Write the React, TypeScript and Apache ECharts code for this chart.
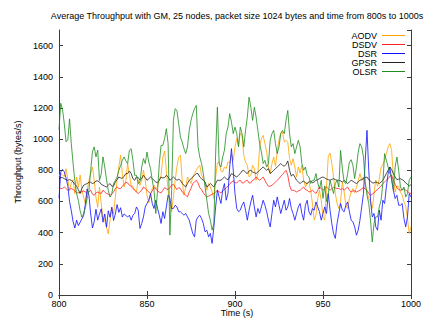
import React, { useEffect, useRef } from "react";
import * as echarts from "echarts";

const TITLE =
  "Average Throughput with GM, 25 nodes, packet size 1024 bytes and time from 800s to 1000s";
const X_LABEL = "Time (s)";
const Y_LABEL = "Throughput (bytes/s)";
const START_TIME = 800;
const SERIES_NAMES = ["AODV", "DSDV", "DSR", "GPSR", "OLSR"];

const AODV = [
  760, 780, 770, 760, 810, 740, 670, 720, 740, 650, 757, 692, 770, 671, 628, 585, 671, 735, 778, 821,
  735, 628, 563, 692, 585, 499, 478, 435, 392, 480, 563, 520, 628, 735, 821, 897, 778, 692, 735, 843,
  770, 704, 698, 672, 661, 736, 704, 736, 800, 736, 640, 591, 640, 683, 704, 683, 693, 740, 768, 885,
  924, 800, 672, 587, 534, 629, 736, 821, 885, 896, 736, 640, 693, 757, 736, 715, 757, 779, 800, 821,
  832, 768, 747, 715, 672, 715, 693, 661, 619, 757, 847, 853, 796, 789, 821, 811, 853, 847, 903, 864,
  950, 1003, 960, 1039, 1024, 896, 853, 832, 757, 768, 832, 811, 736, 779, 950, 1003, 1024, 971, 917, 821,
  779, 843, 885, 826, 917, 996, 1039, 1045, 981, 992, 981, 875, 832, 875, 821, 757, 821, 783, 832, 736,
  693, 719, 725, 672, 587, 480, 512, 619, 672, 608, 501, 480, 693, 890, 911, 843, 757, 651, 587, 555,
  597, 725, 661, 576, 555, 619, 661, 683, 655, 689, 732, 779, 736, 757, 704, 661, 619, 597, 555, 651,
  736, 698, 747, 817, 838, 864, 907, 950, 971, 928, 757, 661, 698, 698, 661, 640, 597, 570, 491, 395,
  437,
];

const DSDV = [
  687, 683, 683, 693, 683, 672, 678, 683, 676, 668, 655, 655, 661, 661, 668, 661, 651, 661, 672, 647,
  640, 655, 661, 655, 651, 672, 661, 651, 647, 640, 647, 661, 683, 693, 683, 683, 698, 710, 723, 719,
  704, 698, 683, 672, 661, 651, 661, 672, 693, 683, 672, 661, 651, 668, 689, 681, 668, 659, 655, 672,
  689, 681, 676, 689, 704, 710, 693, 676, 689, 683, 661, 651, 640, 629, 661, 683, 715, 725, 736, 719,
  689, 676, 655, 640, 629, 634, 640, 647, 651, 661, 672, 661, 655, 668, 676, 689, 698, 710, 725, 732,
  721, 719, 730, 736, 719, 719, 732, 736, 719, 719, 736, 742, 757, 746, 736, 746, 757, 736, 715, 698,
  698, 704, 715, 725, 736, 746, 762, 772, 787, 800, 768, 704, 672, 672, 668, 661, 668, 672, 683, 693,
  676, 672, 661, 664, 672, 661, 651, 672, 693, 683, 672, 683, 693, 683, 672, 681, 693, 687, 683, 683,
  676, 683, 672, 683, 693, 672, 661, 668, 668, 661, 666, 672, 681, 689, 681, 672, 651, 640, 647, 655,
  668, 676, 689, 698, 715, 725, 736, 746, 762, 768, 736, 710, 689, 676, 672, 676, 681, 672, 666, 655,
  651,
];

const DSR = [
  620, 790, 805, 790, 750, 700, 600, 540, 470, 430, 480, 445, 467, 488, 510, 585, 680, 640, 520, 430,
  470, 550, 480, 520, 553, 467, 520, 435, 540, 499, 563, 478, 520, 580, 530, 560, 500, 520, 510, 500,
  512, 480, 512, 523, 565, 544, 427, 459, 501, 565, 587, 608, 651, 587, 555, 608, 555, 512, 459, 534,
  491, 565, 640, 619, 555, 555, 576, 565, 534, 534, 523, 512, 523, 501, 480, 437, 395, 373, 480, 501,
  512, 491, 459, 405, 416, 373, 395, 331, 437, 565, 672, 629, 587, 672, 715, 608, 651, 821, 939, 800,
  651, 555, 534, 544, 576, 597, 544, 480, 544, 597, 640, 565, 501, 555, 523, 565, 608, 576, 534, 480,
  437, 523, 608, 565, 629, 576, 523, 565, 608, 544, 565, 619, 555, 523, 480, 523, 565, 587, 523, 480,
  576, 608, 534, 512, 555, 544, 597, 565, 534, 480, 523, 565, 523, 651, 544, 459, 395, 363, 459, 523,
  587, 544, 534, 576, 597, 534, 480, 469, 437, 384, 416, 480, 565, 651, 864, 1056, 800, 608, 501, 523,
  437, 416, 544, 480, 608, 587, 693, 779, 821, 736, 672, 619, 640, 576, 576, 587, 491, 437, 501, 651,
  629,
];

const GPSR = [
  746, 753, 753, 746, 740, 736, 740, 736, 725, 710, 698, 676, 651, 683, 704, 710, 715, 723, 723, 715,
  719, 732, 732, 725, 710, 704, 698, 693, 704, 715, 698, 698, 725, 740, 757, 751, 749, 762, 779, 779,
  796, 779, 746, 736, 757, 753, 736, 746, 768, 753, 736, 746, 757, 746, 736, 725, 719, 736, 757, 751,
  753, 768, 757, 736, 746, 757, 746, 736, 742, 736, 715, 704, 693, 715, 736, 746, 757, 768, 779, 779,
  757, 746, 736, 725, 693, 704, 715, 704, 693, 715, 736, 736, 736, 746, 757, 746, 740, 757, 779, 772,
  764, 757, 768, 779, 796, 800, 787, 779, 796, 800, 789, 785, 779, 789, 800, 811, 821, 811, 800, 811,
  779, 789, 800, 811, 821, 832, 843, 832, 826, 838, 860, 800, 762, 775, 757, 736, 725, 715, 725, 732,
  719, 715, 725, 732, 719, 725, 736, 740, 746, 753, 757, 751, 744, 740, 736, 742, 746, 740, 736, 736,
  732, 725, 736, 725, 715, 725, 736, 730, 721, 715, 725, 736, 740, 746, 753, 757, 740, 732, 719, 719,
  725, 721, 715, 725, 736, 757, 779, 800, 821, 804, 779, 757, 740, 744, 746, 740, 732, 719, 710, 698,
  710,
];

const OLSR = [
  1060, 1230, 1190, 1100, 983, 995, 1130, 970, 843, 735, 650, 606, 540, 499, 520, 563, 620, 671, 800, 918,
  950, 886, 929, 735, 778, 886, 821, 740, 671, 628, 650, 714, 735, 757, 800, 830, 864, 886, 860, 843,
  928, 939, 864, 768, 768, 715, 725, 821, 875, 843, 917, 853, 811, 736, 672, 523, 672, 843, 960, 960,
  1003, 1067, 971, 384, 672, 1120, 1195, 1184, 1099, 1013, 981, 939, 907, 950, 1056, 1120, 1163, 1195, 1216, 950,
  885, 843, 779, 693, 608, 523, 480, 416, 459, 907, 1205, 843, 821, 885, 928, 1035, 1077, 1163, 1109, 1035,
  1077, 1035, 950, 1077, 1035, 950, 1056, 1141, 1269, 1205, 1120, 1205, 1141, 1056, 971, 917, 843, 864, 821, 843,
  992, 1035, 1056, 971, 907, 950, 1035, 1056, 1035, 1120, 1184, 1035, 950, 971, 907, 950, 992, 950, 843, 800,
  821, 768, 757, 715, 736, 736, 779, 720, 680, 736, 620, 700, 600, 651, 736, 693, 651, 715, 736, 693,
  928, 811, 725, 715, 779, 853, 868, 832, 747, 821, 917, 971, 950, 885, 725, 640, 587, 480, 340, 459,
  501, 501, 565, 608, 715, 907, 864, 821, 779, 757, 672, 821, 885, 800, 693, 672, 693, 629, 651, 736,
  757,
];

const SERIES_VALUES = [AODV, DSDV, DSR, GPSR, OLSR];
const SERIES_COLORS = ["#ffa500", "#ff2020", "#1010ff", "#202020", "#1e8c1e"];

const X_MIN = 800;
const X_MAX = 1000;
const X_STEP = 50;
const Y_MIN = 0;
const Y_MAX = 1700;
const Y_STEP = 200;

const FONT = "'Liberation Sans', Arial, sans-serif";
const AXIS_COLOR = "#3c3c3c";

export default function App() {
  const ref = useRef<HTMLDivElement>(null);

  useEffect(() => {
    if (!ref.current) return;
    const chart = echarts.init(ref.current, undefined, { renderer: "svg" });

    const axisLine = { show: true, lineStyle: { color: AXIS_COLOR, width: 1 } };
    const tick = { show: true, inside: true, length: 4, lineStyle: { color: AXIS_COLOR, width: 1 } };
    const label = {
      fontSize: 9,
      color: "#000",
      fontFamily: FONT,
      formatter: (v: number) => String(v),
    };

    const xBase = { type: "value", min: X_MIN, max: X_MAX, interval: X_STEP, splitLine: { show: false } };
    const yBase = { type: "value", min: Y_MIN, max: Y_MAX, interval: Y_STEP, splitLine: { show: false } };

    chart.setOption({
      animation: false,
      textStyle: { fontFamily: FONT },
      grid: { left: 59, right: 9, top: 30, bottom: 25, containLabel: false },
      xAxis: [
        { ...xBase, position: "bottom", axisLine, axisTick: tick, axisLabel: { ...label, margin: 4 } },
        { ...xBase, position: "top", axisLine, axisTick: tick, axisLabel: { show: false } },
      ],
      yAxis: [
        {
          ...yBase,
          position: "left",
          axisLine,
          axisTick: tick,
          axisLabel: { ...label, margin: 6, showMaxLabel: false },
        },
        { ...yBase, position: "right", axisLine, axisTick: tick, axisLabel: { show: false } },
      ],
      legend: {
        orient: "vertical",
        right: 19,
        top: 31,
        align: "right",
        icon: "rect",
        itemWidth: 23,
        itemHeight: 1,
        itemGap: 0,
        padding: 0,
        textStyle: { fontSize: 9, lineHeight: 8, color: "#000", fontFamily: FONT },
        data: SERIES_NAMES,
      },
      graphic: [
        {
          type: "text",
          x: 237,
          y: 16,
          style: {
            text: TITLE,
            fill: "#000",
            fontSize: 9,
            fontFamily: FONT,
            align: "center",
            verticalAlign: "middle",
          },
        },
        {
          type: "text",
          x: 18,
          y: 162,
          rotation: Math.PI / 2,
          style: {
            text: Y_LABEL,
            fill: "#000",
            fontSize: 9,
            fontFamily: FONT,
            align: "center",
            verticalAlign: "middle",
          },
        },
        {
          type: "text",
          x: 237,
          y: 313,
          style: {
            text: X_LABEL,
            fill: "#000",
            fontSize: 9,
            fontFamily: FONT,
            align: "center",
            verticalAlign: "middle",
          },
        },
      ],
      series: SERIES_NAMES.map((name, k) => ({
        name,
        type: "line",
        xAxisIndex: 0,
        yAxisIndex: 0,
        symbol: "none",
        showSymbol: false,
        clip: true,
        lineStyle: { width: 1, color: SERIES_COLORS[k], opacity: 0.8 },
        itemStyle: { color: SERIES_COLORS[k] },
        data: SERIES_VALUES[k].map((v, i) => [START_TIME + i, v]),
      })),
    });

    return () => chart.dispose();
  }, []);

  return (
    <div
      ref={ref}
      style={{ position: "absolute", left: 0, top: 0, width: 424, height: 320, background: "#fff" }}
    />
  );
}
